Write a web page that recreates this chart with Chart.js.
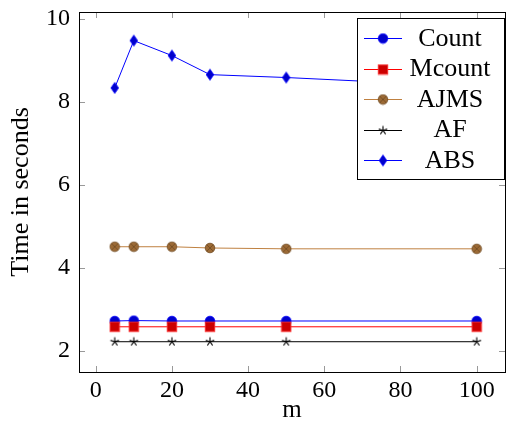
<!DOCTYPE html>
<html>
<head>
<meta charset="utf-8">
<script src="https://cdn.jsdelivr.net/npm/chart.js@4/dist/chart.umd.min.js"></script>
<style>
  body { margin: 0; background: #fff; }
  #wrap { width: 509px; height: 425px; }
</style>
</head>
<body>
<div id="wrap"><canvas id="timeChart" width="509" height="425"></canvas></div>
<script>
// data
const mValues = [5, 10, 20, 30, 50, 100];
const countTimes = [2.72, 2.73, 2.72, 2.72, 2.72, 2.72];
const mcountTimes = [2.58, 2.58, 2.58, 2.58, 2.58, 2.58];
const ajmsTimes = [4.51, 4.51, 4.51, 4.48, 4.46, 4.46];
const afTimes = [2.22, 2.22, 2.22, 2.22, 2.22, 2.22];
const absTimes = [8.34, 9.48, 9.12, 8.66, 8.59, 8.37];
const xTickValues = [0, 20, 40, 60, 80, 100];
const yTickValues = [2, 4, 6, 8, 10];

const FONT = "'Liberation Serif', 'Times New Roman', serif";

// small canvases used as point styles (pgfplots-like marks)
function makeMark(w, h, draw) {
  const c = document.createElement("canvas");
  c.width = w;
  c.height = h;
  draw(c.getContext("2d"), w / 2, h / 2);
  return c;
}

const circleMark = makeMark(12, 12, (ctx, cx, cy) => {
  ctx.beginPath();
  ctx.arc(cx, cy, 4.8, 0, Math.PI * 2);
  ctx.fillStyle = "#0000cc";
  ctx.fill();
  ctx.strokeStyle = "#0000ff";
  ctx.lineWidth = 0.8;
  ctx.stroke();
});

const squareMark = makeMark(12, 12, (ctx, cx, cy) => {
  ctx.fillStyle = "#cc0000";
  ctx.fillRect(cx - 4.8, cy - 4.8, 9.6, 9.6);
  ctx.strokeStyle = "#ff3030";
  ctx.lineWidth = 0.8;
  ctx.strokeRect(cx - 4.8, cy - 4.8, 9.6, 9.6);
});

const otimesMark = makeMark(12, 12, (ctx, cx, cy) => {
  ctx.beginPath();
  ctx.arc(cx, cy, 4.8, 0, Math.PI * 2);
  ctx.fillStyle = "#9c6a35";
  ctx.fill();
  ctx.strokeStyle = "#6e4a22";
  ctx.lineWidth = 0.8;
  ctx.stroke();
  const d = 3.2;
  ctx.beginPath();
  ctx.moveTo(cx - d, cy - d);
  ctx.lineTo(cx + d, cy + d);
  ctx.moveTo(cx + d, cy - d);
  ctx.lineTo(cx - d, cy + d);
  ctx.stroke();
});

const starMark = makeMark(12, 12, (ctx, cx, cy) => {
  ctx.strokeStyle = "#000";
  ctx.lineWidth = 1.1;
  ctx.beginPath();
  for (let k = 0; k < 5; k++) {
    const a = -Math.PI / 2 + (k * 2 * Math.PI) / 5;
    ctx.moveTo(cx, cy);
    ctx.lineTo(cx + 4.5 * Math.cos(a), cy + 4.5 * Math.sin(a));
  }
  ctx.stroke();
});

const diamondMark = makeMark(10, 14, (ctx, cx, cy) => {
  ctx.beginPath();
  ctx.moveTo(cx, cy - 5.5);
  ctx.lineTo(cx + 3.8, cy);
  ctx.lineTo(cx, cy + 5.5);
  ctx.lineTo(cx - 3.8, cy);
  ctx.closePath();
  ctx.fillStyle = "#0000cc";
  ctx.fill();
  ctx.strokeStyle = "#0000ff";
  ctx.lineWidth = 0.8;
  ctx.stroke();
});

function series(label, values, color, mark, order) {
  return {
    label: label,
    data: mValues.map((m, i) => ({ x: m, y: values[i] })),
    borderColor: color,
    borderWidth: 1,
    pointStyle: mark,
    pointRadius: 5,
    pointHoverRadius: 5,
    fill: false,
    tension: 0,
    order: order,
  };
}

// axis box with inward ticks on all four sides (pgfplots style)
const boxAndTicks = {
  id: "boxAndTicks",
  afterDatasetsDraw(chart) {
    const { ctx, chartArea: a, scales } = chart;
    ctx.save();
    ctx.strokeStyle = "#999";
    ctx.lineWidth = 1;
    ctx.beginPath();
    xTickValues.forEach((v) => {
      const px = Math.round(scales.x.getPixelForValue(v)) + 0.5;
      ctx.moveTo(px, a.bottom);
      ctx.lineTo(px, a.bottom - 6);
      ctx.moveTo(px, a.top);
      ctx.lineTo(px, a.top + 6);
    });
    yTickValues.forEach((v) => {
      const py = Math.round(scales.y.getPixelForValue(v)) + 0.5;
      ctx.moveTo(a.left, py);
      ctx.lineTo(a.left + 6, py);
      ctx.moveTo(a.right, py);
      ctx.lineTo(a.right - 6, py);
    });
    ctx.stroke();
    ctx.strokeStyle = "#000";
    ctx.strokeRect(a.left + 0.5, a.top + 0.5, a.right - a.left, a.bottom - a.top);
    ctx.restore();
  },
};

// legend box in the upper right corner of the plot area
const boxLegend = {
  id: "boxLegend",
  afterDraw(chart) {
    const { ctx, chartArea: a } = chart;
    const w = 147;
    const h = 161;
    const left = a.right - w - 1;
    const top = a.top + 6;
    ctx.save();
    ctx.fillStyle = "#fff";
    ctx.fillRect(left, top, w, h);
    ctx.strokeStyle = "#000";
    ctx.lineWidth = 1;
    ctx.strokeRect(left + 0.5, top + 0.5, w, h);
    ctx.font = "26px " + FONT;
    ctx.textAlign = "center";
    ctx.textBaseline = "middle";
    chart.data.datasets.forEach((ds, i) => {
      const y = top + 20 + i * 30.5;
      ctx.strokeStyle = ds.borderColor;
      ctx.beginPath();
      ctx.moveTo(left + 7, Math.round(y) + 0.5);
      ctx.lineTo(left + 45, Math.round(y) + 0.5);
      ctx.stroke();
      const img = ds.pointStyle;
      ctx.drawImage(img, left + 26 - img.width / 2, Math.round(y) + 0.5 - img.height / 2);
      ctx.fillStyle = "#000";
      ctx.fillText(ds.label, left + 93, y + 1);
    });
    ctx.restore();
  },
};

new Chart(document.getElementById("timeChart"), {
  type: "line",
  data: {
    datasets: [
      series("Count", countTimes, "#0000ff", circleMark, 5),
      series("Mcount", mcountTimes, "#ff0000", squareMark, 4),
      series("AJMS", ajmsTimes, "#bf8040", otimesMark, 3),
      series("AF", afTimes, "#000000", starMark, 2),
      series("ABS", absTimes, "#0000ff", diamondMark, 1),
    ],
  },
  options: {
    responsive: false,
    animation: false,
    devicePixelRatio: 1,
    layout: {
      autoPadding: false,
      padding: { top: 12, right: 4, left: 0, bottom: 0 },
    },
    plugins: {
      legend: { display: false },
      tooltip: { enabled: false },
    },
    scales: {
      x: {
        type: "linear",
        min: -4.38,
        max: 107.43,
        afterBuildTicks: (s) => {
          s.ticks = xTickValues.map((v) => ({ value: v }));
        },
        afterFit: (s) => {
          s.height = 53;
          s.paddingLeft = 0;
          s.paddingRight = 0;
        },
        grid: { display: false, drawTicks: false },
        border: { display: false },
        ticks: {
          color: "#000",
          padding: 4,
          maxRotation: 0,
          font: { family: FONT, size: 24 },
        },
        title: {
          display: true,
          text: "m",
          color: "#000",
          padding: { top: 0, bottom: 0 },
          font: { family: FONT, size: 25 },
        },
      },
      y: {
        type: "linear",
        min: 1.49,
        max: 10.17,
        afterBuildTicks: (s) => {
          s.ticks = yTickValues.map((v) => ({ value: v }));
        },
        afterFit: (s) => {
          s.width = 79;
          s.paddingTop = 0;
          s.paddingBottom = 0;
        },
        grid: { display: false, drawTicks: false },
        border: { display: false },
        ticks: {
          color: "#000",
          padding: 9,
          font: { family: FONT, size: 24 },
        },
        title: {
          display: true,
          text: "Time in seconds",
          color: "#000",
          padding: { top: 6, bottom: 0 },
          font: { family: FONT, size: 26 },
        },
      },
    },
  },
  plugins: [boxAndTicks, boxLegend],
});
</script>
</body>
</html>
